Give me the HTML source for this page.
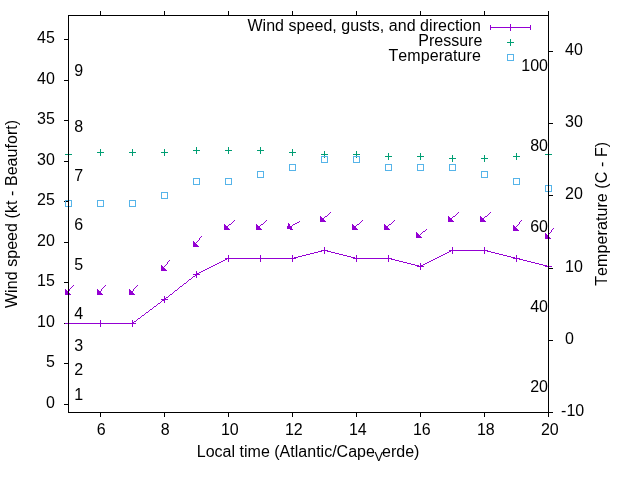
<!DOCTYPE html><html><head><meta charset="utf-8"><style>html,body{margin:0;padding:0;background:#fff;width:640px;height:480px;overflow:hidden}svg{display:block;will-change:transform}text{font-family:"Liberation Sans",sans-serif;font-size:16px;fill:#000;font-kerning:none;font-feature-settings:"kern" 0}</style></head><body>
<svg width="640" height="480" viewBox="0 0 640 480">
<rect width="640" height="480" fill="#fff"/>
<path d="M64 404.5H68.5M64 363.5H68.5M64 323.5H68.5M64 282.5H68.5M64 242.5H68.5M64 201.5H68.5M64 161.5H68.5M64 120.5H68.5M64 80.5H68.5M64 39.5H68.5M548.5 412.5H553M548.5 340.5H553M548.5 268.5H553M548.5 195.5H553M548.5 123.5H553M548.5 51.5H553M100.5 412.5V417M100.5 15.5V11M164.5 412.5V417M164.5 15.5V11M228.5 412.5V417M228.5 15.5V11M292.5 412.5V417M292.5 15.5V11M356.5 412.5V417M356.5 15.5V11M420.5 412.5V417M420.5 15.5V11M484.5 412.5V417M484.5 15.5V11M548.5 412.5V417M548.5 15.5V11" stroke="#000" stroke-width="1" fill="none"/>
<path d="M68.000 322.990L101.000 322.990L101.000 323.990L68.000 323.990ZM100.000 322.990L133.000 322.990L133.000 323.990L100.000 323.990ZM132.000 323.365L165.000 298.615L165.000 299.615L132.000 324.365ZM164.000 299.381L197.000 273.599L197.000 274.599L164.000 300.381ZM196.000 274.240L229.000 257.740L229.000 258.740L196.000 275.240ZM228.000 257.990L261.000 257.990L261.000 258.990L228.000 258.990ZM260.000 257.990L293.000 257.990L293.000 258.990L260.000 258.990ZM292.000 258.115L325.000 249.865L325.000 250.865L292.000 259.115ZM324.000 249.865L357.000 258.115L357.000 259.115L324.000 250.865ZM356.000 257.990L389.000 257.990L389.000 258.990L356.000 258.990ZM388.000 257.865L421.000 266.115L421.000 267.115L388.000 258.865ZM420.000 266.240L453.000 249.740L453.000 250.740L420.000 267.240ZM452.000 249.990L485.000 249.990L485.000 250.990L452.000 250.990ZM484.000 249.865L517.000 258.115L517.000 259.115L484.000 250.865ZM516.000 257.865L549.000 266.115L549.000 267.115L516.000 258.865Z" fill="#9400d3" shape-rendering="crispEdges"/>
<path d="M65.0 323.5h7M68.5 320.0v7M97.0 323.5h7M100.5 320.0v7M129.0 323.5h7M132.5 320.0v7M161.0 299.5h7M164.5 296.0v7M193.0 274.5h7M196.5 271.0v7M225.0 258.5h7M228.5 255.0v7M257.0 258.5h7M260.5 255.0v7M289.0 258.5h7M292.5 255.0v7M321.0 250.5h7M324.5 247.0v7M353.0 258.5h7M356.5 255.0v7M385.0 258.5h7M388.5 255.0v7M417.0 266.5h7M420.5 263.0v7M449.0 250.5h7M452.5 247.0v7M481.0 250.5h7M484.5 247.0v7M513.0 258.5h7M516.5 255.0v7M545.0 266.5h7M548.5 263.0v7" stroke="#9400d3" stroke-width="1" fill="none"/>
<path d="M73.444 285.000L64.556 295.000L65.556 295.000L74.444 285.000ZM105.444 285.000L96.556 295.000L97.556 295.000L106.444 285.000ZM137.444 285.000L128.556 295.000L129.556 295.000L138.444 285.000ZM169.400 260.000L160.600 271.000L161.600 271.000L170.400 260.000ZM201.400 236.000L192.600 247.000L193.600 247.000L202.400 236.000ZM224.000 229.440L235.000 219.540L235.000 220.540L224.000 230.440ZM256.000 229.440L267.000 219.540L267.000 220.540L256.000 230.440ZM287.000 228.282L300.000 220.698L300.000 221.698L287.000 229.282ZM320.000 221.440L331.000 211.540L331.000 212.540L320.000 222.440ZM352.000 229.440L363.000 219.540L363.000 220.540L352.000 230.440ZM384.000 229.440L395.000 219.540L395.000 220.540L384.000 230.440ZM416.000 237.390L427.000 228.590L427.000 229.590L416.000 238.390ZM448.000 221.440L459.000 211.540L459.000 212.540L448.000 222.440ZM480.000 221.440L491.000 211.540L491.000 212.540L480.000 222.440ZM521.400 220.000L512.600 231.000L513.600 231.000L522.400 220.000ZM553.400 228.000L544.600 239.000L545.600 239.000L554.400 228.000Z" fill="#9400d3" shape-rendering="crispEdges"/>
<path d="M64.99 295.01L64.99 288.7L71.3 295.01ZM96.99 295.01L96.99 288.7L103.3 295.01ZM128.99 295.01L128.99 288.7L135.3 295.01ZM160.99 271.01L160.99 264.7L167.3 271.01ZM192.99 247.01L192.99 240.7L199.3 247.01ZM223.99 230.01L223.99 223.7L230.3 230.01ZM255.99 230.01L255.99 223.7L262.3 230.01ZM288 223h1v1h-1ZM288 224h2v1h-2ZM288 225h2v1h-2ZM287 226h4v1h-4ZM287 227h5v1h-5ZM287 228h5v1h-5ZM290 229h3v1h-3ZM319.99 222.01L319.99 215.7L326.3 222.01ZM351.99 230.01L351.99 223.7L358.3 230.01ZM383.99 230.01L383.99 223.7L390.3 230.01ZM415.99 238.01L415.99 231.7L422.3 238.01ZM447.99 222.01L447.99 215.7L454.3 222.01ZM479.99 222.01L479.99 215.7L486.3 222.01ZM512.99 231.01L512.99 224.7L519.3 231.01ZM544.99 239.01L544.99 232.7L551.3 239.01Z" fill="#9400d3" shape-rendering="crispEdges"/>
<path d="M65.0 154.5h7M68.5 151.0v7M97.0 152.5h7M100.5 149.0v7M129.0 152.5h7M132.5 149.0v7M161.0 152.5h7M164.5 149.0v7M193.0 150.5h7M196.5 147.0v7M225.0 150.5h7M228.5 147.0v7M257.0 150.5h7M260.5 147.0v7M289.0 152.5h7M292.5 149.0v7M321.0 154.5h7M324.5 151.0v7M353.0 154.5h7M356.5 151.0v7M385.0 156.5h7M388.5 153.0v7M417.0 156.5h7M420.5 153.0v7M449.0 158.5h7M452.5 155.0v7M481.0 158.5h7M484.5 155.0v7M513.0 156.5h7M516.5 153.0v7M545.0 154.5h7M548.5 151.0v7" stroke="#009e73" stroke-width="1" fill="none"/>
<path d="M65 200h7v7h-7ZM66 201v5h5v-5ZM97 200h7v7h-7ZM98 201v5h5v-5ZM129 200h7v7h-7ZM130 201v5h5v-5ZM161 192h7v7h-7ZM162 193v5h5v-5ZM193 178h7v7h-7ZM194 179v5h5v-5ZM225 178h7v7h-7ZM226 179v5h5v-5ZM257 171h7v7h-7ZM258 172v5h5v-5ZM289 164h7v7h-7ZM290 165v5h5v-5ZM321 156h7v7h-7ZM322 157v5h5v-5ZM353 156h7v7h-7ZM354 157v5h5v-5ZM385 164h7v7h-7ZM386 165v5h5v-5ZM417 164h7v7h-7ZM418 165v5h5v-5ZM449 164h7v7h-7ZM450 165v5h5v-5ZM481 171h7v7h-7ZM482 172v5h5v-5ZM513 178h7v7h-7ZM514 179v5h5v-5ZM545 185h7v7h-7ZM546 186v5h5v-5Z" fill="#56b4e9" fill-rule="evenodd" shape-rendering="crispEdges"/>
<rect x="68.5" y="15.5" width="480" height="397" fill="none" stroke="#000" stroke-width="1"/>
<text x="54.8" y="408" text-anchor="end">0</text>
<text x="54.8" y="367" text-anchor="end">5</text>
<text x="54.8" y="327" text-anchor="end">10</text>
<text x="54.8" y="286" text-anchor="end">15</text>
<text x="54.8" y="246" text-anchor="end">20</text>
<text x="54.8" y="205" text-anchor="end">25</text>
<text x="54.8" y="165" text-anchor="end">30</text>
<text x="54.8" y="124" text-anchor="end">35</text>
<text x="54.8" y="84" text-anchor="end">40</text>
<text x="54.8" y="43" text-anchor="end">45</text>
<text x="74.3" y="400">1</text>
<text x="74.3" y="375">2</text>
<text x="74.3" y="351">3</text>
<text x="74.3" y="319">4</text>
<text x="74.3" y="270">5</text>
<text x="74.3" y="230">6</text>
<text x="74.3" y="181">7</text>
<text x="74.3" y="132">8</text>
<text x="74.3" y="76">9</text>
<text x="561.1" y="416">-10</text>
<text x="565.05" y="344">0</text>
<text x="565.05" y="272">10</text>
<text x="565.05" y="199">20</text>
<text x="565.05" y="127">30</text>
<text x="565.05" y="55">40</text>
<text x="548" y="392" text-anchor="end">20</text>
<text x="548" y="312" text-anchor="end">40</text>
<text x="548" y="232" text-anchor="end">60</text>
<text x="548" y="151" text-anchor="end">80</text>
<text x="548" y="71" text-anchor="end">100</text>
<text x="96.85" y="435">6</text>
<text x="160.85" y="435">8</text>
<text x="220.90" y="435">10</text>
<text x="284.90" y="435">12</text>
<text x="348.90" y="435">14</text>
<text x="412.90" y="435">16</text>
<text x="476.90" y="435">18</text>
<text x="540.90" y="435">20</text>
<text x="196.8" y="457" style="letter-spacing:0.01px">Local time (Atlantic/Cape</text>
<text x="374.4" y="461" style="font-size:12.8px">V</text>
<text x="382.1" y="457">erde)</text>
<text transform="translate(16.7,213.9) rotate(-90)" text-anchor="middle" style="letter-spacing:0.06px">Wind speed (kt - Beaufort)</text>
<text transform="translate(606.5,213.8) rotate(-90)" text-anchor="middle" style="letter-spacing:0.09px">Temperature (C - F)</text>
<text x="481" y="31" text-anchor="end" style="letter-spacing:0.045px">Wind speed, gusts, and direction</text>
<text x="482.3" y="46" text-anchor="end">Pressure</text>
<text x="481" y="61" text-anchor="end" style="letter-spacing:0.09px">Temperature</text>
<path d="M490 27.5H531M490.5 25V30M530.5 25V30M510.5 24V31" stroke="#9400d3" stroke-width="1" fill="none"/>
<path d="M507 42.5h7M510.5 39v7" stroke="#009e73" stroke-width="1" fill="none"/>
<path d="M507 54h7v7h-7ZM508 55v5h5v-5Z" fill="#56b4e9" fill-rule="evenodd" shape-rendering="crispEdges"/>
</svg></body></html>
